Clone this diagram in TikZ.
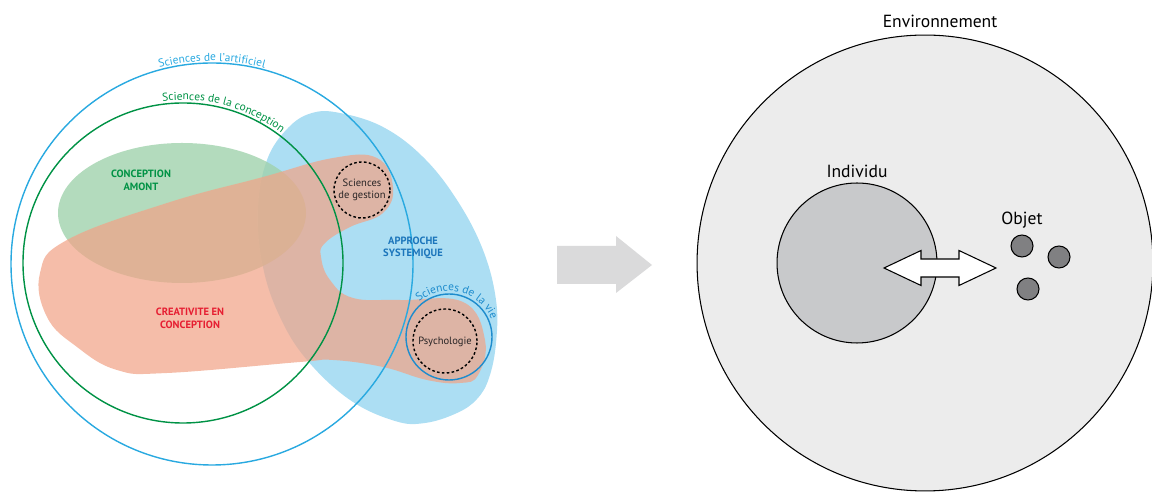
\documentclass[tikz,border=0pt]{standalone}
\usepackage{fontspec}
\setmainfont{PT Sans}
\usepackage{tikz}
\usetikzlibrary{decorations.text,calc}
\usepackage{xcolor}
\definecolor{artblue}{RGB}{41,169,224}
\definecolor{vieblue}{RGB}{30,140,205}
\definecolor{sysblue}{RGB}{172,222,243}
\definecolor{sysdark}{RGB}{27,117,187}
\definecolor{concgreen}{RGB}{0,146,69}
\definecolor{amontfill}{RGB}{160,210,172}
\definecolor{creafill}{RGB}{241,164,136}
\definecolor{creared}{RGB}{230,30,50}
\definecolor{envgray}{RGB}{236,236,236}
\definecolor{indgray}{RGB}{200,201,203}
\definecolor{objgray}{RGB}{128,128,130}
\definecolor{arrowgray}{RGB}{218,218,219}
\definecolor{inkgray}{RGB}{40,36,37}

\begin{document}
\begin{tikzpicture}[x=0.02cm, y=0.02cm,
    bigtxt/.style={font=\fontsize{10}{12}\selectfont, text=black},
    caps/.style={font=\fontsize{6}{7.2}\selectfont\bfseries, align=center},
    discipline/.style={font=\fontsize{6}{7.2}\selectfont, text=inkgray, align=center},
    dotted circle/.style={draw=black, line width=0.8pt, dash pattern=on 1.5pt off 1.3pt}]
    \useasboundingbox (0,0) rectangle (1152,493);

    % Approche systemique
    \fill[sysblue] plot[smooth cycle, tension=0.65] coordinates {
        (340,380) (383,366) (423,336) (457,293) (483,243) (496,193) (496,150)
        (489,115) (477,94) (457,80) (425,70) (395,72) (350,93) (307,133)
        (280,176) (263,226) (258,283) (267,333) (288,365) (312,380)};

    % Conception amont
    \fill[amontfill, opacity=0.8] (182,280) ellipse [x radius=124, y radius=70];

    % Creativite en conception
    \fill[creafill, opacity=0.72] plot[smooth cycle, tension=0.7] coordinates {
        (40,220) (67,253) (167,290) (263,316) (333,335) (377,335) (393,306)
        (383,280) (350,266) (325,250) (321,236) (330,213) (353,195) (400,193)
        (463,191) (485,153) (478,118) (460,110) (427,113) (383,126) (333,133)
        (300,131) (167,120) (117,123) (77,146) (47,176)};

    % Circles
    \coordinate (art) at (212,229);
    \coordinate (conc) at (183,230);
    \coordinate (vie) at (449,156);
    \draw[artblue, line width=0.8pt] (art) circle [radius=201];
    \draw[concgreen, line width=0.8pt] (conc) circle [radius=160];
    \draw[vieblue, line width=0.8pt] (vie) circle [radius=43];
    \draw[dotted circle] (362,303) circle [radius=28];
    \draw[dotted circle] (445,152) circle [radius=32];

    % Curved labels
    \path[decorate, decoration={text along path, text align=center,
        text={|\fontsize{6.5}{7}\selectfont\color{artblue}|Sciences de l'artificiel}}]
        ($(art)+(125:203)$) arc [start angle=125, end angle=55, radius=203];
    \path[decorate, decoration={text along path, text align=center,
        text={|\fontsize{6.5}{7}\selectfont\color{concgreen}|Sciences de la conception}}]
        ($(conc)+(125:163)$) arc [start angle=125, end angle=25, radius=163];
    \path[decorate, decoration={text along path, text align=center,
        text={|\fontsize{6.5}{7}\selectfont\color{vieblue}|Sciences de la vie}}]
        ($(vie)+(150:46)$) arc [start angle=150, end angle=3, radius=46];

    % Region labels
    \node[caps, text=concgreen] (amont) at (141,313) {CONCEPTION\\AMONT};
    \node[caps, text=creared] (crea) at (190,175) {CREATIVITE EN\\CONCEPTION};
    \node[caps, text=sysdark] (syst) at (413,245) {APPROCHE\\SYSTEMIQUE};
    \node[discipline] (gestion) at (362,303) {Sciences\\de gestion};
    \node[discipline] (psycho) at (445,151) {Psychologie};

    % Transition
    \fill[arrowgray] (557,209) -- (616,209) -- (616,200) -- (652,228)
        -- (616,257) -- (616,247) -- (557,247) -- cycle;

    % Environnement
    \node[circle, draw, line width=0.6pt, fill=envgray, minimum size=9.12cm, inner sep=0] (env) at (925,230) {};
    \node[bigtxt] (envlabel) at (940,472) {Environnement};

    % Individu
    \node[circle, draw, line width=0.6pt, fill=indgray, minimum size=3.2cm, inner sep=0] (indiv) at (857,230) {};
    \node[bigtxt] (indivlabel) at (857,322) {Individu};

    % Objets
    \node[bigtxt] (objlabel) at (1022,273) {Objet};
    \foreach \n/\p in {a/{(1022,247)}, b/{(1059,236)}, c/{(1028,204)}} {
        \node[circle, draw, line width=0.6pt, fill=objgray, minimum size=0.44cm, inner sep=0] (obj\n) at \p {};
    }

    % Interaction
    \draw[line width=0.6pt, fill=white] (884,225) -- (921,242.5) -- (921,234) -- (959,234)
        -- (959,242.5) -- (996,225) -- (959,207.5) -- (959,216) -- (921,216)
        -- (921,207.5) -- cycle;
\end{tikzpicture}
\end{document}
